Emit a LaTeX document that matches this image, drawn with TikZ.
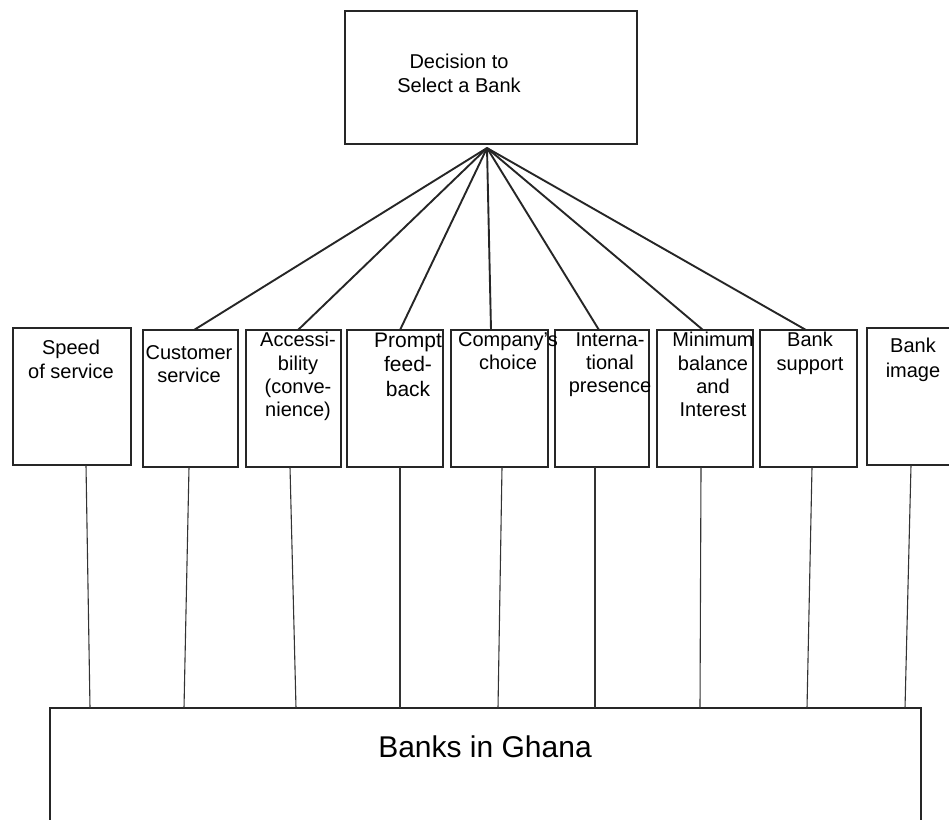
\documentclass[tikz,border=0pt]{standalone}
\usepackage{fontspec}
\setmainfont{Liberation Sans}
\begin{document}
\begin{tikzpicture}[x=1pt,y=-1pt,
  box/.style={draw=black!85,line width=2pt,inner sep=0pt,outer sep=0pt,minimum height=137pt},
  lbl/.style={anchor=north,align=center,inner sep=0pt,outer sep=0pt,text=black,font=\fontsize{20}{23.3}\selectfont},
  fanline/.style={draw=black!85,line width=1.9pt},
  legline/.style={draw=black!80,line width=1.1pt}]
\useasboundingbox (0,0) rectangle (949,819);
\clip (0,0) rectangle (949,819);
% top box
\node[box,minimum width=292pt,minimum height=133pt] (top) at (491,77.5) {};
\node[lbl,font=\fontsize{20}{24}\selectfont] (toptxt) at (459,54.5) {Decision to\\Select a Bank};
\coordinate (fan) at (487,148);
% criteria boxes
\node[box,minimum width=118pt] (b1) at (72,396.5) {};
\node[box,minimum width=95pt] (b2) at (190.5,398.5) {};
\node[box,minimum width=95pt] (b3) at (293.5,398.5) {};
\node[box,minimum width=96pt] (b4) at (395,398.5) {};
\node[box,minimum width=97pt] (b5) at (499.5,398.5) {};
\node[box,minimum width=94pt] (b6) at (602,398.5) {};
\node[box,minimum width=96pt] (b7) at (705,398.5) {};
\node[box,minimum width=97pt] (b8) at (808.5,398.5) {};
\node[box,minimum width=93pt] (b9) at (913.5,396.5) {};
% labels
\node[lbl] (t1) at (71,340.5) {Speed\\of service};
\node[lbl] (t2) at (189,345.5) {Customer\\service};
\node[lbl] (t3) at (298,332.5) {Accessi-\\bility\\(conve-\\nience)};
\node[lbl,font=\fontsize{21}{24.5}\selectfont] (t4) at (408,333) {Prompt\\feed-\\back};
\node[lbl] (t5) at (508,332.5) {Company's\\choice};
\node[lbl] (t6) at (610,332.5) {Interna-\\tional\\presence};
\node[lbl] (t7) at (713,332.5) {Minimum\\balance\\and\\Interest};
\node[lbl] (t8) at (810,332.5) {Bank\\support};
\node[lbl,font=\fontsize{20}{25}\selectfont] (t9) at (913,338.5) {Bank\\image};
% bottom box
\node[box,minimum width=871pt,minimum height=142pt] (bank) at (485.5,779) {};
\node[lbl,font=\fontsize{30}{34}\selectfont] (banktxt) at (485,736) {Banks in Ghana};
% fan connectors
\draw[fanline] (fan) -- ([xshift=3.5pt]b2.north);
\draw[fanline] (fan) -- ([xshift=4.5pt]b3.north);
\draw[fanline] (fan) -- ([xshift=5pt]b4.north);
\draw[fanline] (fan) -- ([xshift=-8.5pt]b5.north);
\draw[fanline] (fan) -- ([xshift=-3pt]b6.north);
\draw[fanline] (fan) -- ([xshift=-2pt]b7.north);
\draw[fanline] (fan) -- ([xshift=-2.5pt]b8.north);
% lines down to banks
\draw[legline] ([xshift=14pt]b1.south) -- ([xshift=-395.5pt]bank.north);
\draw[legline] ([xshift=-1.5pt]b2.south) -- ([xshift=-301.5pt]bank.north);
\draw[legline] ([xshift=-3.5pt]b3.south) -- ([xshift=-189.5pt]bank.north);
\draw[legline] ([xshift=5pt]b4.south) -- ([xshift=-85.5pt]bank.north);
\draw[legline] ([xshift=2.5pt]b5.south) -- ([xshift=12.5pt]bank.north);
\draw[legline] ([xshift=-7pt]b6.south) -- ([xshift=109.5pt]bank.north);
\draw[legline] ([xshift=-4pt]b7.south) -- ([xshift=214.5pt]bank.north);
\draw[legline] ([xshift=3.5pt]b8.south) -- ([xshift=321.5pt]bank.north);
\draw[legline] ([xshift=-2.5pt]b9.south) -- ([xshift=419.5pt]bank.north);
\end{tikzpicture}
\end{document}
